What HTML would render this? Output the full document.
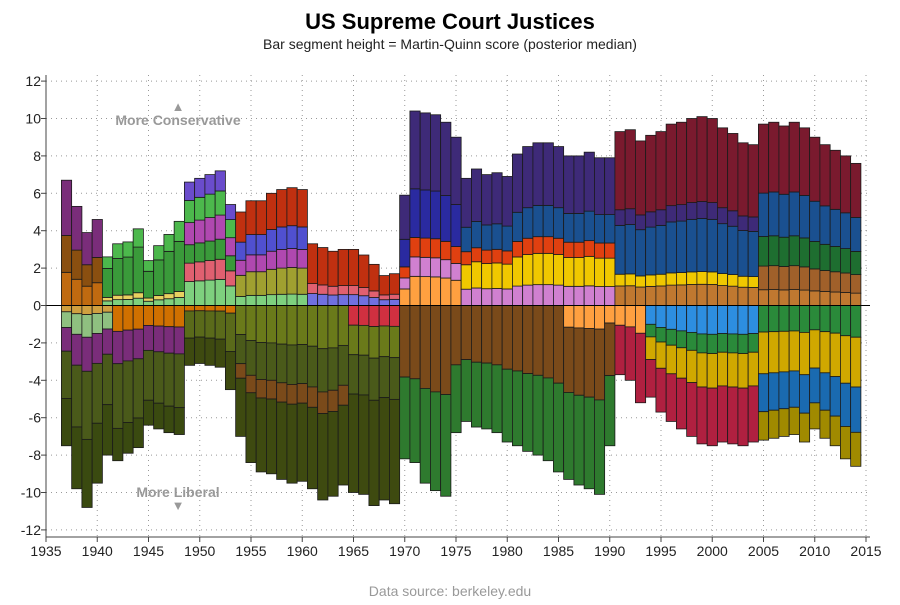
<!DOCTYPE html>
<html><head><meta charset="utf-8">
<style>
body{margin:0;background:#fff;}
svg text{font-family:"Liberation Sans",sans-serif;}
</style></head>
<body>
<svg id="s" width="900" height="600" xmlns="http://www.w3.org/2000/svg">
<rect width="900" height="600" fill="#fff"/>
<text x="450" y="29" text-anchor="middle" font-size="22" font-weight="bold" fill="#000">US Supreme Court Justices</text>
<text x="450" y="49" text-anchor="middle" font-size="14" fill="#222">Bar segment height = Martin-Quinn score (posterior median)</text>
<text x="450" y="596" text-anchor="middle" font-size="14" fill="#999">Data source: berkeley.edu</text>
<g id="grid"></g>
<g id="bars"></g>
<g id="ax"></g>
<text x="178" y="111" text-anchor="middle" font-size="13" fill="#999">▲</text>
<text x="178" y="125" text-anchor="middle" font-size="14" font-weight="bold" fill="#999">More Conservative</text>
<text x="178" y="497" text-anchor="middle" font-size="14" font-weight="bold" fill="#999">More Liberal</text>
<text x="178" y="510" text-anchor="middle" font-size="13" fill="#999">▼</text>
</svg>
<script>
(function(){
const NS="http://www.w3.org/2000/svg";
function el(p,t,a,txt){const e=document.createElementNS(NS,t);for(const k in a)e.setAttribute(k,a[k]);if(txt!==undefined)e.textContent=txt;p.appendChild(e);return e;}
const X=y=>46+(y-1935)*10.25, Y=v=>305.5-v*18.7;
const g=document.getElementById('grid'),ax=document.getElementById('ax'),b=document.getElementById('bars');
for(let v=-12;v<=12;v+=2){el(g,'line',{x1:46,x2:870,y1:Y(v),y2:Y(v),stroke:'#999','stroke-dasharray':'1,4','stroke-width':1});
 el(ax,'text',{x:41,y:Y(v)+5,'text-anchor':'end','font-size':14,fill:'#222'},v);
 el(ax,'line',{x1:41,x2:46,y1:Y(v),y2:Y(v),stroke:'#444'});}
for(let y=1935;y<=2015;y+=5){el(g,'line',{x1:X(y),x2:X(y),y1:75,y2:537,stroke:'#999','stroke-dasharray':'1,4','stroke-width':1});
 el(ax,'text',{x:X(y),y:556,'text-anchor':'middle','font-size':14,fill:'#222'},y);
 el(ax,'line',{x1:X(y),x2:X(y),y1:537,y2:542,stroke:'#444'});}
el(ax,'line',{x1:46,x2:46,y1:75,y2:537,stroke:'#444'});
el(ax,'line',{x1:46,x2:870,y1:537,y2:537,stroke:'#444'});
const tops=[6.7,5.3,3.9,4.6,2.6,3.3,3.4,4.1,2.4,3.2,3.8,4.5,6.6,6.8,7.0,7.2,5.4,5.0,5.6,5.6,6.0,6.2,6.3,6.2,3.3,3.1,2.9,3.0,3.0,2.7,2.2,1.6,1.7,5.9,10.4,10.3,10.2,9.8,9.0,6.8,7.3,7.0,7.1,6.9,8.1,8.5,8.7,8.7,8.5,8.0,8.0,8.2,7.9,7.9,9.3,9.4,8.8,9.1,9.3,9.7,9.8,10.0,10.1,10.0,9.5,9.2,8.7,8.6,9.7,9.8,9.6,9.8,9.5,9.0,8.6,8.3,8.0,7.6];
const bots=[7.5,9.8,10.8,9.5,8.0,8.3,7.9,7.6,6.4,6.6,6.8,6.9,3.2,3.1,3.2,3.3,4.5,7.0,8.4,8.9,9.0,9.3,9.5,9.4,9.8,10.4,10.2,9.6,10.0,10.1,10.7,10.4,10.6,8.2,8.4,9.5,9.9,10.2,6.8,6.2,6.5,6.6,6.8,7.3,7.5,7.8,8.0,8.3,8.9,9.3,9.6,9.8,10.1,7.5,3.7,4.0,5.2,4.9,5.7,6.2,6.6,7.0,7.4,7.5,7.3,7.4,7.5,7.3,7.2,7.1,7.0,6.9,7.3,6.6,7.1,7.5,8.2,8.6];
const P=[
 [1937,1940,[['#c06a10',1.8],['#8a4f10',2],['#7a2d7a',3]]],
 [1941,1948,[['#7ed07e',0.4],['#e8d060',0.3],['#3a9a3a',2.5],['#4cb84c',1]]],
 [1949,1953,[['#7ed07e',1.3],['#e06070',1],['#3a9a3a',1],['#b048b0',1.2],['#4cb84c',1.2],['#6a4ccc',1]]],
 [1954,1960,[['#7ed07e',0.6],['#a0a030',1.4],['#b048b0',1],['#5050d0',1.2],['#c03010',2]]],
 [1961,1969,[['#7070e0',0.6],['#e06070',0.5],['#c03010',2]]],
 [1970,1975,[['#ffa040',1.5],['#d080d0',1],['#e04010',1],['#2a2aa0',2.5],['#3e2a78',4]]],
 [1976,1990,[['#d080d0',1],['#f0c800',1.5],['#e04010',0.8],['#1a5090',1.5],['#3e2a78',3]]],
 [1991,2004,[['#c07830',1],['#f0c800',0.6],['#1a5090',2.5],['#3e2a78',0.8],['#7a1a2e',4]]],
 [2005,2014,[['#c07830',0.8],['#a0602a',1.2],['#1e6e30',1.5],['#1a5090',2.2],['#7a1a2e',3.5]]]];
const N=[
 [1937,1941,[['#d0a040',0.4],['#8fc080',1],['#7a2d7a',1.5],['#4a5a1a',3],['#3a4a10',3]]],
 [1942,1948,[['#d07000',1.2],['#7a2d7a',1.5],['#4a5a1a',3],['#3a4a10',1.5]]],
 [1949,1953,[['#d07000',0.3],['#5a6a1a',1.5],['#3e4a10',1.5]]],
 [1954,1964,[['#6a7a1a',2],['#4a5a1a',2],['#7a4a1a',1],['#3e4a10',4]]],
 [1965,1969,[['#d03040',1],['#6a7a1a',1.5],['#4a5a1a',2],['#3e4a10',5]]],
 [1970,1985,[['#7a4a1a',3.5],['#2e7a2e',4]]],
 [1986,1990,[['#ffa040',1],['#7a4a1a',3],['#2e7a2e',4]]],
 [1991,1993,[['#ffa040',1],['#b02040',2.5]]],
 [1994,2004,[['#2d8ee0',1.5],['#2a8a3a',1],['#d0a800',1.8],['#b02040',3]]],
 [2005,2014,[['#2a8a3a',1.4],['#d0a800',2.2],['#1a6ab0',2],['#a08a00',1.5]]]];
function segs(L,yr){for(const e of L)if(yr>=e[0]&&yr<=e[1])return e[2];return L[0][2];}
for(let i=0;i<tops.length;i++){const yr=1937+i,x=X(yr)-5.1;
 let s=segs(P,yr),tot=s.reduce((a,c)=>a+c[1],0),acc=0;
 for(const c of s){const h=c[1]/tot*tops[i];el(b,'rect',{x:x,width:10.25,y:Y(acc+h),height:h*18.7,fill:c[0],stroke:'#1a1a1a','stroke-width':0.8});acc+=h;}
 s=segs(N,yr);tot=s.reduce((a,c)=>a+c[1],0);acc=0;
 for(const c of s){const h=c[1]/tot*bots[i];el(b,'rect',{x:x,width:10.25,y:Y(-acc),height:h*18.7,fill:c[0],stroke:'#1a1a1a','stroke-width':0.8});acc+=h;}}
el(b,'line',{x1:46,x2:870,y1:Y(0),y2:Y(0),stroke:'#000','stroke-width':1});
})();
</script>
</body></html>
